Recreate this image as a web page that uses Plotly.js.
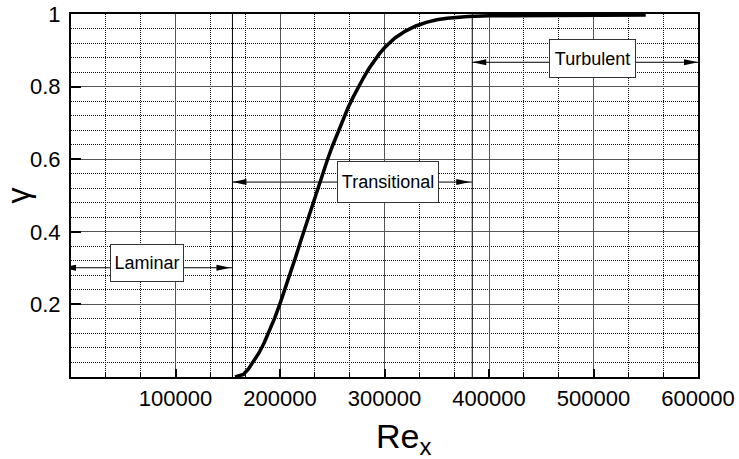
<!DOCTYPE html>
<html>
<head>
<meta charset="utf-8">
<script src="https://cdn.plot.ly/plotly-3.0.1.min.js"></script>
<style>
html,body{margin:0;padding:0;background:#fff;}
#chart{width:739px;height:459px;}
</style>
</head>
<body>
<div id="chart"></div>
<script>
// ---- data ----
const reX = [157000, 165000, 170000, 175000, 180000, 185000, 190000, 195000, 200000, 205000, 210000, 215000, 220000, 225000, 230000, 235000, 240000, 245000, 250000, 255000, 260000, 265000, 270000, 275000, 280000, 285000, 290000, 295000, 300000, 310000, 320000, 330000, 340000, 350000, 360000, 370000, 380000, 400000, 450000, 550000];
const gamma = [0, 0.007, 0.023, 0.043, 0.067, 0.095, 0.128, 0.163, 0.202, 0.243, 0.286, 0.331, 0.376, 0.421, 0.466, 0.51, 0.554, 0.595, 0.635, 0.672, 0.708, 0.741, 0.771, 0.799, 0.825, 0.849, 0.871, 0.89, 0.907, 0.934, 0.953, 0.967, 0.977, 0.984, 0.988, 0.991, 0.993, 0.995, 0.996, 0.997];

const xTickVals = [100000, 200000, 300000, 400000, 500000, 600000];
const xTickText = ['100000', '200000', '300000', '400000', '500000', '600000'];
const yTickVals = [0.2, 0.4, 0.6, 0.8, 1];
const yTickText = ['0.2', '0.4', '0.6', '0.8', '1'];

const regionNames = ['Laminar', 'Transitional', 'Turbulent'];
const regionBounds = [0, 154500, 384000, 600000];

// ---- placement of the region labels/arrows ----
const labelPos = [
  {x: 73000, y: 0.314, w: 70, h: 34},
  {x: 303000, y: 0.537, w: 98, h: 38},
  {x: 499500, y: 0.877, w: 83, h: 35}
];
const arrowLevel = [0.301, 0.537, 0.867];
const tipGap = [[-9, 2], [0, 2], [0, 0]]; // [left tip offset, right tip gap] px

const FONT = 'Liberation Sans, Arial, Helvetica, sans-serif';

const shapes = [];
// region boundary lines
[regionBounds[1], regionBounds[2]].forEach(b => {
  shapes.push({type: 'line', xref: 'x', yref: 'paper', x0: b, x1: b, y0: 0, y1: 1,
    line: {color: '#000', width: 1}, layer: 'between'});
});
const annotations = [];
regionNames.forEach((name, i) => {
  const a = regionBounds[i], b = regionBounds[i + 1], y = arrowLevel[i];
  shapes.push({type: 'line', xref: 'x', yref: 'y', x0: a, x1: b, y0: y, y1: y,
    line: {color: '#000', width: 1}, layer: 'above'});
  const L = 14, H = 3;
  const lt = tipGap[i][0], rt = tipGap[i][1];
  // left-pointing head
  shapes.push({type: 'path', xref: 'x', yref: 'y', xsizemode: 'pixel', ysizemode: 'pixel',
    xanchor: a, yanchor: y,
    path: `M${lt},0L${lt + L},${H}L${lt + L},${-H}Z`,
    fillcolor: '#000', line: {width: 0}, layer: 'above'});
  // right-pointing head
  shapes.push({type: 'path', xref: 'x', yref: 'y', xsizemode: 'pixel', ysizemode: 'pixel',
    xanchor: b, yanchor: y,
    path: `M${-rt},0L${-rt - L},${H}L${-rt - L},${-H}Z`,
    fillcolor: '#000', line: {width: 0}, layer: 'above'});
  const p = labelPos[i];
  annotations.push({text: name, x: p.x, y: p.y, xref: 'x', yref: 'y', showarrow: false,
    bgcolor: '#fff', bordercolor: '#333', borderwidth: 1, borderpad: 1,
    width: p.w, height: p.h, font: {family: FONT, size: 18, color: '#000'}});
});
annotations.push({text: 'Re<sub>x</sub>', xref: 'paper', yref: 'paper', x: 0.531, y: -0.105,
  xanchor: 'center', yanchor: 'top', showarrow: false,
  font: {family: FONT, size: 34, color: '#000'}});

const trace = {
  x: reX, y: gamma, type: 'scatter', mode: 'lines',
  line: {color: '#000', width: 3.5, shape: 'linear'},
  hoverinfo: 'x+y', showlegend: false
};

const axisCommon = {
  showline: true, linewidth: 2, linecolor: '#000', mirror: true,
  ticks: 'inside', tickwidth: 2, tickcolor: '#000',
  showgrid: true, gridcolor: '#555', gridwidth: 1, zeroline: false,
  tickfont: {family: FONT, size: 22, color: '#000'},
  automargin: false, fixedrange: true
};

const layout = {
  width: 739, height: 459,
  margin: {l: 71, r: 41, t: 14, b: 82},
  paper_bgcolor: '#fff', plot_bgcolor: '#fff',
  font: {family: FONT, color: '#000'},
  showlegend: false,
  xaxis: Object.assign({}, axisCommon, {
    range: [0, 600000], tickmode: 'array', tickvals: xTickVals, ticktext: xTickText,
    ticklen: 8, ticklabelstandoff: 1,
    minor: {dtick: 100000 / 3, tick0: 0, ticks: 'inside', ticklen: 4, tickwidth: 1, tickcolor: '#000',
      showgrid: true, gridcolor: '#111', gridwidth: 1, griddash: '1px,1px'}
  }),
  yaxis: Object.assign({}, axisCommon, {
    range: [0, 1], tickmode: 'array', tickvals: yTickVals, ticktext: yTickText,
    ticklen: 10, ticklabelstandoff: 4,
    title: {text: 'γ', font: {family: FONT, size: 32, color: '#000'}, standoff: 2},
    minor: {dtick: 0.04, tick0: 0, ticks: '',
      showgrid: true, gridcolor: '#111', gridwidth: 1, griddash: '1px,1px'}
  }),
  shapes: shapes,
  annotations: annotations
};

Plotly.newPlot('chart', [trace], layout, {staticPlot: true, displayModeBar: false});
</script>
</body>
</html>
